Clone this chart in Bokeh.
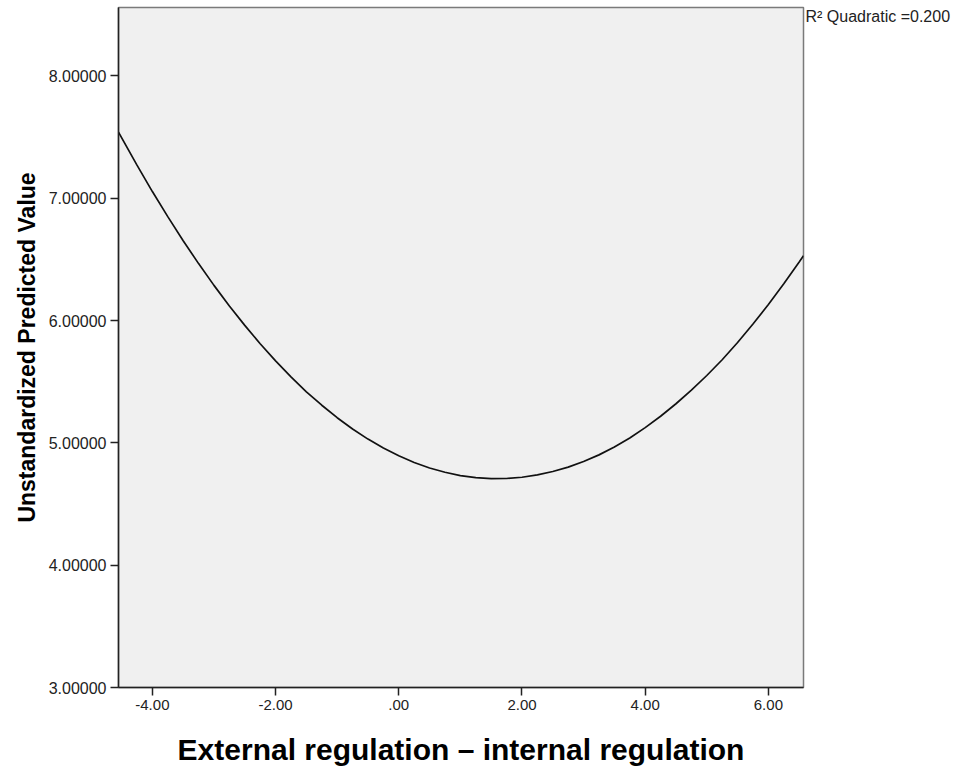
from bokeh.plotting import figure
from bokeh.models import Range1d, FixedTicker, LinearAxis
from bokeh.embed import file_html
from bokeh.resources import INLINE

# Fitted quadratic curve values
x_vals = [-4.55, -4.25, -4.0, -3.75, -3.5, -3.25, -3.0, -2.75, -2.5, -2.25, -2.0,
          -1.75, -1.5, -1.25, -1.0, -0.75, -0.5, -0.25, 0.0, 0.25, 0.5, 0.75, 1.0,
          1.25, 1.5, 1.75, 2.0, 2.25, 2.5, 2.75, 3.0, 3.25, 3.5, 3.75, 4.0, 4.25,
          4.5, 4.75, 5.0, 5.25, 5.5, 5.75, 6.0, 6.25, 6.5, 6.57]
y_vals = [7.541, 7.271, 7.055, 6.850, 6.653, 6.466, 6.288, 6.120, 5.961, 5.811, 5.671,
          5.540, 5.418, 5.308, 5.206, 5.114, 5.031, 4.958, 4.895, 4.840, 4.795, 4.760, 4.733,
          4.716, 4.708, 4.709, 4.719, 4.738, 4.766, 4.802, 4.848, 4.902, 4.966, 5.040, 5.125,
          5.218, 5.320, 5.431, 5.551, 5.680, 5.821, 5.972, 6.131, 6.301, 6.479, 6.531]

x_ticks = [-4, -2, 0, 2, 4, 6]
x_tick_labels = ["-4.00", "-2.00", ".00", "2.00", "4.00", "6.00"]
y_ticks = [3, 4, 5, 6, 7, 8]
y_tick_labels = ["3.00000", "4.00000", "5.00000", "6.00000", "7.00000", "8.00000"]

x_title = "External regulation \u2013 internal regulation"
y_title = "Unstandardized Predicted Value"
r2_text = "R\u00b2 Quadratic =0.200"
r2_anchor = 8.49  # vertical position of the fit annotation (top right, outside the frame)

FONT = "Liberation Sans"

p = figure(width=962, height=768, output_backend="svg", toolbar_location=None,
           x_range=Range1d(-4.55, 6.57), y_range=Range1d(3, 8.56),
           min_border_left=118, min_border_right=159, min_border_top=7,
           min_border_bottom=79)

p.background_fill_color = "#F0F0F0"
p.border_fill_color = "white"
p.outline_line_color = "#7a7a7a"
p.outline_line_width = 1.5
p.xgrid.visible = False
p.ygrid.visible = False

p.line(x_vals, y_vals, line_color="#111111", line_width=1.7)

xa = p.xaxis[0]
ya = p.yaxis[0]
for ax in (xa, ya):
    ax.axis_line_color = "#222222"
    ax.axis_line_width = 1.5
    ax.major_tick_line_color = "#222222"
    ax.major_tick_line_width = 1.5
    ax.major_tick_in = 0
    ax.major_tick_out = 8
    ax.minor_tick_line_color = None
    ax.major_label_text_font = FONT
    ax.major_label_text_color = "#222222"
    ax.axis_label_text_font = FONT
    ax.axis_label_text_font_style = "bold"
    ax.axis_label_text_color = "black"

xa.ticker = FixedTicker(ticks=x_ticks)
xa.major_label_overrides = dict(zip(x_ticks, x_tick_labels))
xa.major_label_text_font_size = "15px"
xa.major_label_standoff = 4
xa.axis_label = x_title
xa.axis_label_text_font_size = "30px"
xa.axis_label_standoff = 20

ya.ticker = FixedTicker(ticks=y_ticks)
ya.major_label_overrides = dict(zip(y_ticks, y_tick_labels))
ya.major_label_text_font_size = "16px"
ya.major_label_standoff = 4
ya.axis_label = y_title
ya.axis_label_text_font_size = "23px"
ya.axis_label_standoff = 6

# R^2 annotation drawn as a right-side axis label just outside the frame
r2_axis = LinearAxis(ticker=FixedTicker(ticks=[r2_anchor]),
                     major_label_overrides={r2_anchor: r2_text})
r2_axis.axis_line_color = None
r2_axis.major_tick_line_color = None
r2_axis.minor_tick_line_color = None
r2_axis.major_tick_out = 0
r2_axis.major_tick_in = 0
r2_axis.major_label_standoff = 2
r2_axis.major_label_text_font = FONT
r2_axis.major_label_text_font_size = "16px"
r2_axis.major_label_text_color = "#222222"
p.add_layout(r2_axis, "right")

open("out.html", "w").write(file_html(p, INLINE))
